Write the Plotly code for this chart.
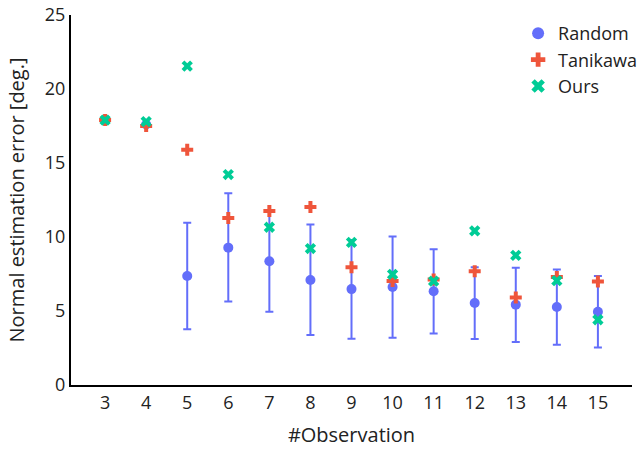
import plotly.graph_objects as go

observations = [3, 4, 5, 6, 7, 8, 9, 10, 11, 12, 13, 14, 15]
random_mean = [17.9, 17.6, 7.36, 9.28, 8.36, 7.1, 6.48, 6.62, 6.33, 5.54, 5.43, 5.27, 4.95]
random_upper = [None, None, 10.97, 12.96, 11.77, 10.85, 9.8, 10.03, 9.17, 7.95, 7.93, 7.81, 7.36]
random_lower = [None, None, 3.76, 5.65, 4.95, 3.37, 3.13, 3.19, 3.48, 3.1, 2.9, 2.72, 2.54]
tanikawa = [17.9, 17.5, 15.89, 11.29, 11.76, 12.03, 7.95, 7.02, 7.12, 7.68, 5.92, 7.29, 7.0]
ours = [17.9, 17.8, 21.55, 14.22, 10.66, 9.22, 9.64, 7.48, 7.02, 10.41, 8.76, 7.05, 4.41]

err_plus = [None if u is None else u - m for u, m in zip(random_upper, random_mean)]
err_minus = [None if l is None else m - l for l, m in zip(random_lower, random_mean)]

fig = go.Figure()
fig.add_trace(go.Scatter(
    x=observations, y=random_mean, mode="markers", name="Random",
    marker=dict(symbol="circle", size=10, color="#636efa"),
    error_y=dict(type="data", symmetric=False, array=err_plus, arrayminus=err_minus,
                 color="#636efa", thickness=2, width=4),
))
fig.add_trace(go.Scatter(
    x=observations, y=tanikawa, mode="markers", name="Tanikawa",
    marker=dict(symbol="cross", size=10, color="#EF553B"),
))
fig.add_trace(go.Scatter(
    x=observations, y=ours, mode="markers", name="Ours",
    marker=dict(symbol="x", size=10, color="#00cc96"),
))

fig.update_layout(
    width=639, height=454,
    margin=dict(l=71, r=7, t=15, b=69, autoexpand=False),
    paper_bgcolor="white", plot_bgcolor="white",
    font=dict(family="Open Sans", size=18, color="#222"),
    legend=dict(x=0.797, xanchor="left", y=1, yanchor="top",
                font=dict(size=18), bgcolor="rgba(0,0,0,0)",
                tracegroupgap=0, itemsizing="constant"),
)
fig.update_xaxes(
    range=[2.17, 15.83], tickmode="array", tickvals=observations,
    ticktext=[str(v) for v in observations], automargin=False,
    showgrid=False, zeroline=False, showline=True, linecolor="black", linewidth=2,
    ticks="", title=dict(text="#Observation", font=dict(size=20)),
)
fig.update_yaxes(
    range=[0, 25], tickvals=[0, 5, 10, 15, 20, 25], automargin=False,
    showgrid=False, zeroline=False, showline=True, linecolor="black", linewidth=2,
    ticks="", title=dict(text="Normal estimation error [deg.]", font=dict(size=20)),
)

fig.write_html("out.html", config={"displayModeBar": False},
               post_script="document.body.style.margin='0';")
